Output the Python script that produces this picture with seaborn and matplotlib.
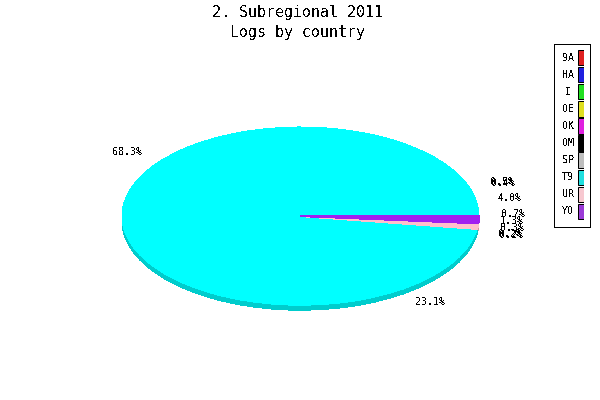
import matplotlib
matplotlib.use("Agg")
import matplotlib.pyplot as plt
import pandas as pd
import seaborn as sns
from matplotlib.patches import Rectangle

# legend entries
codes = ['9A', 'HA', 'I', 'OE', 'OK', 'OM', 'SP', 'T9', 'UR', 'YO']
colors = ['#ff0000', '#0000ff', '#00ff00', '#ffff00', '#ff00ff',
          '#000000', '#bebebe', '#00ffff', '#ffc0cb', '#a020f0']
# share of the pie each code visibly takes up
shares = [0, 0, 0, 0, 0, 0, 0, 97.7, 1.0, 1.3]
# printed percentages, as they stand around the pie
pct_labels = ['68.3%', '23.1%', '4.0%', '0.5%', '0.4%', '0.7%', '1.3%', '0.3%', '0.2%', '0.2%']
pct_xy = [(127, 152), (430, 302), (510, 198), (502, 182), (503, 183),
          (513, 214), (512, 221), (512, 228), (510, 234), (511, 235)]

W, H = 600, 400


def px_axes(fig, left, top, right, bottom):
    return fig.add_axes([left / W, 1 - bottom / H, (right - left) / W, (bottom - top) / H])


sns.set_theme(style="white")
plt.rcParams['font.family'] = ['DejaVu Sans Mono']
plt.rcParams['text.antialiased'] = False

fig = plt.figure(figsize=(6, 4), dpi=100, facecolor='white')

# pie, stretched to an ellipse by the axes box; extra room below for the rim
ax = px_axes(fig, 122, 127, 479, 323)
order = [9, 8, 7]  # clockwise from 3 o'clock
vals = [shares[i] for i in order]
cols = sns.color_palette([colors[i] for i in order])
dark = [(r * 0.8, g * 0.8, b * 0.8) for r, g, b in cols]
wedge_style = dict(linewidth=0, antialiased=False)

for step in range(5, 0, -1):
    ax.pie(vals, colors=dark, startangle=0, counterclock=False,
           center=(0, -step / 89), radius=1, wedgeprops=wedge_style)
wedges, _ = ax.pie(vals, colors=cols, startangle=0, counterclock=False, center=(0, 0), radius=1,
                   wedgeprops=wedge_style)
# thin slices need an outline or they vanish near the centre
for w, c in zip(wedges[:2], cols[:2]):
    w.set_edgecolor(c)
    w.set_linewidth(0.72)
    w.set_zorder(3)
wedges[0].set_zorder(4)
ax.set_aspect('auto')
ax.set_xlim(-1, 1)
ax.set_ylim(-1.2, 1)
ax.axis('off')

for label, (x, y) in zip(pct_labels, pct_xy):
    fig.text(x / W, 1 - y / H, label, ha='center', va='center', fontsize=7.2, color='black')

fig.text(298 / W, 1 - 13 / H, '2. Subregional 2011', ha='center', va='center', fontsize=10.8, color='black')
fig.text(298 / W, 1 - 32 / H, 'Logs by country', ha='center', va='center', fontsize=10.8, color='black')

# legend box with swatches as a small bar plot
fig.add_artist(Rectangle((553.5 / W, 1 - 226.5 / H), 36 / W, 183 / H, transform=fig.transFigure,
                         fill=False, edgecolor='black', linewidth=0.72, antialiased=False))
lax = px_axes(fig, 578, 49, 584, 220)
df = pd.DataFrame({'code': codes, 'swatch': [1] * len(codes)})
sns.barplot(data=df, y='code', x='swatch', hue='code', palette=colors, legend=False,
            orient='h', width=0.9, edgecolor='black', linewidth=0.72, ax=lax)
lax.set_xlim(0, 1)
lax.set_xlabel('')
lax.set_ylabel('')
lax.set_xticks([])
lax.set_yticks([])
for i, code in enumerate(codes):
    lax.text(-1.67, i, code, ha='center', va='center', fontsize=7.2, color='black')
sns.despine(ax=lax, left=True, bottom=True)
lax.patch.set_visible(False)

fig.savefig('out.png', dpi=100, facecolor='white')
